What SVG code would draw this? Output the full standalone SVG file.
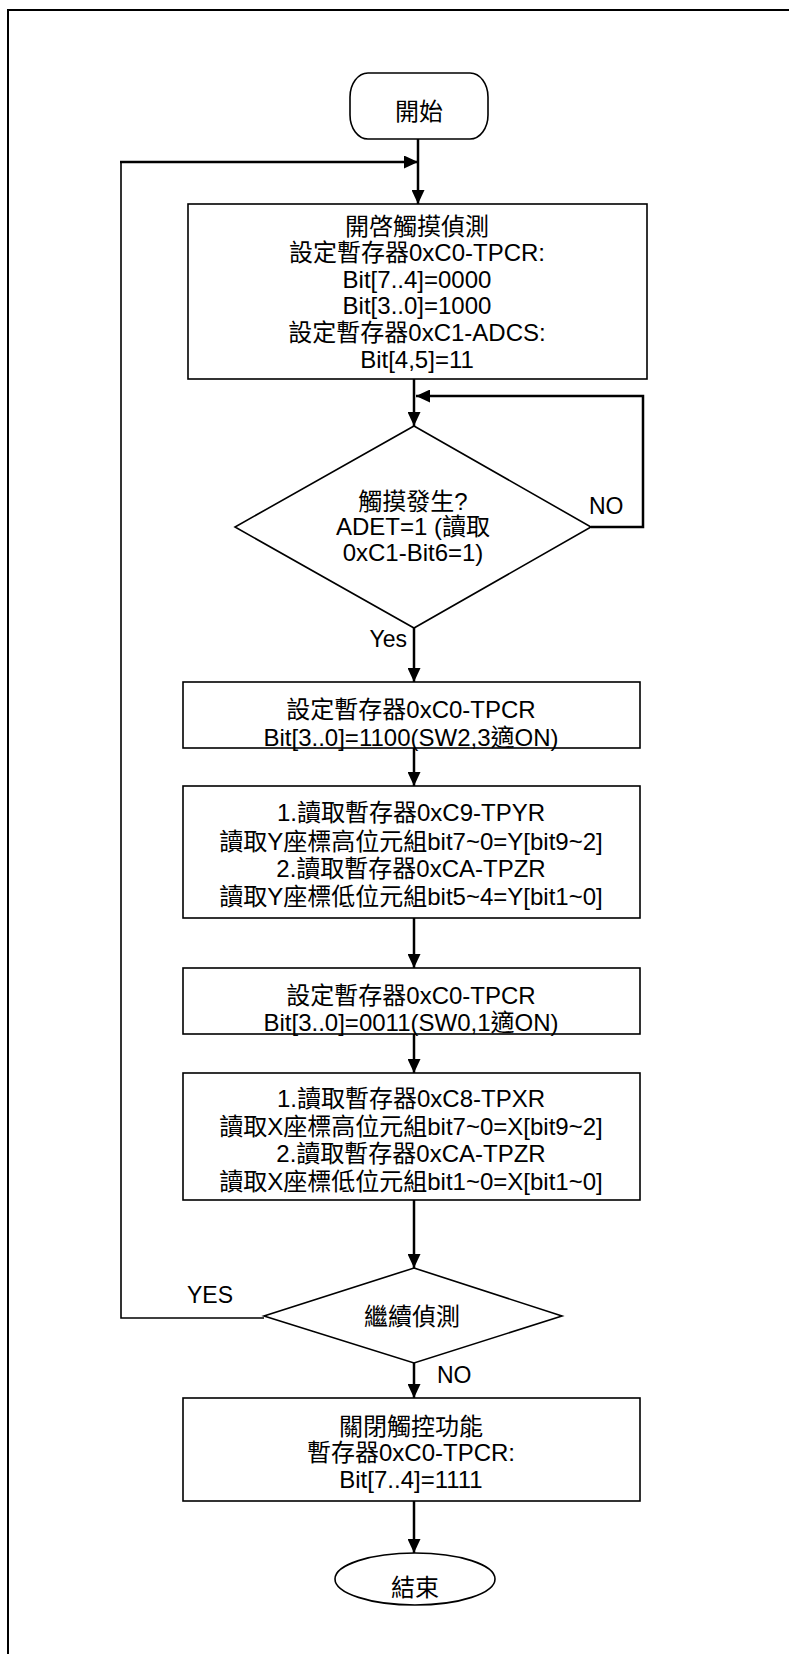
<svg xmlns="http://www.w3.org/2000/svg" width="789" height="1654" viewBox="0 0 789 1654">
<defs>
<marker id="ah" viewBox="0 0 14 13" refX="14" refY="6.5" markerWidth="14" markerHeight="13" markerUnits="userSpaceOnUse" orient="auto"><path d="M0,0 L14,6.5 L0,13 Z" fill="#000"/></marker>
</defs>
<style>
.node{fill:#fff;stroke:#000;stroke-width:1.6}
.t{font-family:"Liberation Sans","Noto Sans CJK TC",sans-serif;font-size:24px;fill:#000;text-anchor:middle}
.l{font-family:"Liberation Sans","Noto Sans CJK TC",sans-serif;font-size:23px;fill:#000}
.c{fill:none;stroke:#000;stroke-width:2.5}
.c2{fill:none;stroke:#000;stroke-width:1.6}
</style>
<rect width="789" height="1654" fill="#fff"/>
<path d="M8,1654 V10 H789" fill="none" stroke="#000" stroke-width="2"/>
<g id="connectors">
<path class="c" d="M418,139 V204" marker-end="url(#ah)"/>
<path class="c2" d="M264,1318 H121 V162"/>
<path class="c" d="M120,162 H418" marker-end="url(#ah)"/>
<path class="c" d="M414,379 V426" marker-end="url(#ah)"/>
<path class="c" d="M591,527 H643 V396 H416" marker-end="url(#ah)"/>
<path class="c" d="M414,628 V682" marker-end="url(#ah)"/>
<path class="c" d="M414,748 V786" marker-end="url(#ah)"/>
<path class="c" d="M414,918 V968" marker-end="url(#ah)"/>
<path class="c" d="M414,1034 V1073" marker-end="url(#ah)"/>
<path class="c" d="M414,1200 V1268" marker-end="url(#ah)"/>
<path class="c" d="M414,1363 V1398" marker-end="url(#ah)"/>
<path class="c" d="M414,1501 V1553" marker-end="url(#ah)"/>
<text class="l" x="589" y="514">NO</text>
<text class="l" x="407" y="647" text-anchor="end">Yes</text>
<text class="l" x="187" y="1303">YES</text>
<text class="l" x="437" y="1383">NO</text>
</g>
<g id="start">
<rect class="node" x="350" y="73" width="138" height="66" rx="18" ry="24"/>
<text class="t" x="419" y="120">開始</text>
</g>
<g id="enable">
<rect class="node" x="188" y="204" width="459" height="175"/>
<text class="t" x="417" y="235">開啓觸摸偵測</text>
<text class="t" x="417" y="261">設定暫存器0xC0-TPCR:</text>
<text class="t" x="417" y="288">Bit[7..4]=0000</text>
<text class="t" x="417" y="314">Bit[3..0]=1000</text>
<text class="t" x="417" y="341">設定暫存器0xC1-ADCS:</text>
<text class="t" x="417" y="368">Bit[4,5]=11</text>
</g>
<g id="touch">
<polygon class="node" points="414,426 591,527 414,628 235,527"/>
<text class="t" x="413" y="510">觸摸發生?</text>
<text class="t" x="413" y="535">ADET=1 (讀取</text>
<text class="t" x="413" y="561">0xC1-Bit6=1)</text>
</g>
<g id="sety">
<rect class="node" x="183" y="682" width="457" height="66"/>
<text class="t" x="411" y="718">設定暫存器0xC0-TPCR</text>
<text class="t" x="411" y="746">Bit[3..0]=1100(SW2,3適ON)</text>
</g>
<g id="ready">
<rect class="node" x="183" y="786" width="457" height="132"/>
<text class="t" x="411" y="821">1.讀取暫存器0xC9-TPYR</text>
<text class="t" x="411" y="850">讀取Y座標高位元組bit7~0=Y[bit9~2]</text>
<text class="t" x="411" y="877">2.讀取暫存器0xCA-TPZR</text>
<text class="t" x="411" y="905">讀取Y座標低位元組bit5~4=Y[bit1~0]</text>
</g>
<g id="setx">
<rect class="node" x="183" y="968" width="457" height="66"/>
<text class="t" x="411" y="1004">設定暫存器0xC0-TPCR</text>
<text class="t" x="411" y="1031">Bit[3..0]=0011(SW0,1適ON)</text>
</g>
<g id="readx">
<rect class="node" x="183" y="1073" width="457" height="127"/>
<text class="t" x="411" y="1107">1.讀取暫存器0xC8-TPXR</text>
<text class="t" x="411" y="1135">讀取X座標高位元組bit7~0=X[bit9~2]</text>
<text class="t" x="411" y="1162">2.讀取暫存器0xCA-TPZR</text>
<text class="t" x="411" y="1190">讀取X座標低位元組bit1~0=X[bit1~0]</text>
</g>
<g id="continue">
<polygon class="node" points="414,1268 562,1316 414,1363 264,1316"/>
<text class="t" x="412" y="1325">繼續偵測</text>
</g>
<g id="disable">
<rect class="node" x="183" y="1398" width="457" height="103"/>
<text class="t" x="411" y="1435">關閉觸控功能</text>
<text class="t" x="411" y="1461">暫存器0xC0-TPCR:</text>
<text class="t" x="411" y="1488">Bit[7..4]=1111</text>
</g>
<g id="end">
<ellipse class="node" cx="415" cy="1579" rx="80" ry="26"/>
<text class="t" x="415" y="1596">結束</text>
</g>
</svg>
